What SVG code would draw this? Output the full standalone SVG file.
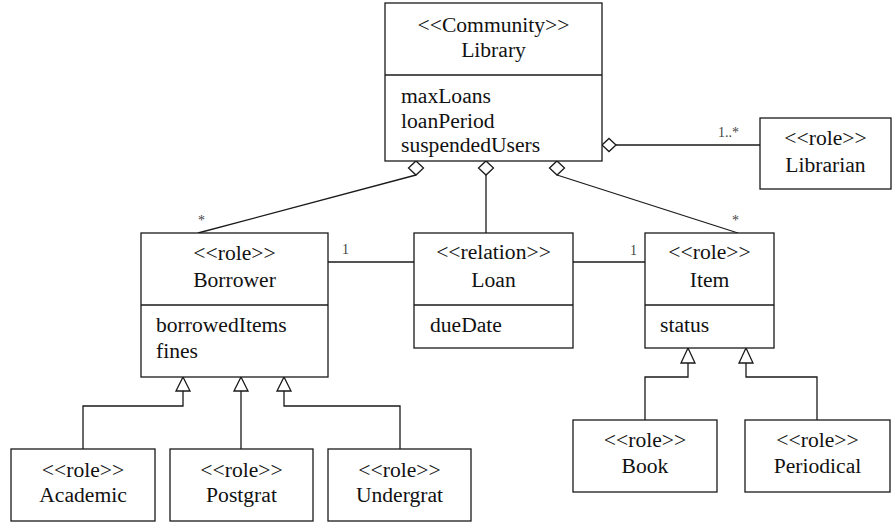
<svg xmlns="http://www.w3.org/2000/svg" width="894" height="523" viewBox="0 0 894 523">
<style>
.box{fill:#fff;stroke:#1a1a1a;stroke-width:1.3}
text{font-family:"Liberation Serif","Times New Roman",Times,Tinos,"Noto Serif","Nimbus Roman","FreeSerif","DejaVu Serif","Noto Serif CJK SC",serif}
.t{font-size:21.6px;fill:#111}
.c{text-anchor:middle}
.m{font-size:14px;fill:#444}
.ln{fill:none;stroke:#1a1a1a;stroke-width:1.3}
.dia{fill:#fff;stroke:#1a1a1a;stroke-width:1.3}
</style>
<rect width="894" height="523" fill="#fff"/>
<g id="connectors">
  <line class="ln" x1="416" y1="175" x2="198" y2="233"/>
  <line class="ln" x1="486" y1="175" x2="486" y2="233"/>
  <line class="ln" x1="557" y1="175" x2="738" y2="233"/>
  <line class="ln" x1="616" y1="145" x2="760" y2="145"/>
  <polygon class="dia" points="416,161 423.5,168 416,175 408.5,168"/>
  <polygon class="dia" points="486,161 493.5,168 486,175 478.5,168"/>
  <polygon class="dia" points="557,161 564.5,168 557,175 549.5,168"/>
  <polygon class="dia" points="602,145 609,138.5 616,145 609,151.5"/>
  <text class="m" x="718" y="137">1..*</text>
  <text class="m" x="198" y="225">*</text>
  <text class="m" x="732" y="225">*</text>
  <line class="ln" x1="328" y1="262" x2="414" y2="262"/>
  <line class="ln" x1="573" y1="262" x2="645" y2="262"/>
  <text class="m" x="342" y="254">1</text>
  <text class="m" x="630" y="255">1</text>
  <polyline class="ln" points="183,391 183,406 83,406 83,449"/>
  <line class="ln" x1="241" y1="391" x2="241" y2="449"/>
  <polyline class="ln" points="284,391 284,406 400,406 400,449"/>
  <polygon class="dia" points="183,377 190,391 176,391"/>
  <polygon class="dia" points="241,377 248,391 234,391"/>
  <polygon class="dia" points="284,377 291,391 277,391"/>
  <polyline class="ln" points="688,363 688,377 645,377 645,420"/>
  <polyline class="ln" points="746,363 746,377 817,377 817,420"/>
  <polygon class="dia" points="688,348 695,363 681,363"/>
  <polygon class="dia" points="746,348 753,363 739,363"/>
</g>
<g id="library">
  <rect class="box" x="385" y="3" width="217" height="158"/>
  <line class="ln" x1="385" y1="75" x2="602" y2="75"/>
  <text class="t c" x="493.5" y="32">&lt;&lt;Community&gt;&gt;</text>
  <text class="t c" x="493.5" y="57">Library</text>
  <text class="t" x="401" y="103">maxLoans</text>
  <text class="t" x="401" y="128">loanPeriod</text>
  <text class="t" x="401" y="152">suspendedUsers</text>
</g>
<g id="librarian">
  <rect class="box" x="760" y="118" width="131" height="71"/>
  <text class="t c" x="825.5" y="145">&lt;&lt;role&gt;&gt;</text>
  <text class="t c" x="825.5" y="172">Librarian</text>
</g>
<g id="borrower">
  <rect class="box" x="141" y="233" width="187" height="144"/>
  <line class="ln" x1="141" y1="305" x2="328" y2="305"/>
  <text class="t c" x="234.5" y="260">&lt;&lt;role&gt;&gt;</text>
  <text class="t c" x="234.5" y="287">Borrower</text>
  <text class="t" x="156" y="332">borrowedItems</text>
  <text class="t" x="156" y="358">fines</text>
</g>
<g id="loan">
  <rect class="box" x="414" y="233" width="159" height="115"/>
  <line class="ln" x1="414" y1="305" x2="573" y2="305"/>
  <text class="t c" x="493.5" y="259">&lt;&lt;relation&gt;&gt;</text>
  <text class="t c" x="493.5" y="287">Loan</text>
  <text class="t" x="430" y="332">dueDate</text>
</g>
<g id="item">
  <rect class="box" x="645" y="233" width="129" height="115"/>
  <line class="ln" x1="645" y1="305" x2="774" y2="305"/>
  <text class="t c" x="709.5" y="259">&lt;&lt;role&gt;&gt;</text>
  <text class="t c" x="709.5" y="287">Item</text>
  <text class="t" x="660" y="332">status</text>
</g>
<g id="academic">
  <rect class="box" x="11" y="449" width="144" height="72"/>
  <text class="t c" x="83" y="477">&lt;&lt;role&gt;&gt;</text>
  <text class="t c" x="83" y="502">Academic</text>
</g>
<g id="postgrat">
  <rect class="box" x="170" y="449" width="143" height="72"/>
  <text class="t c" x="241.5" y="477">&lt;&lt;role&gt;&gt;</text>
  <text class="t c" x="241.5" y="502">Postgrat</text>
</g>
<g id="undergrat">
  <rect class="box" x="328" y="449" width="143" height="72"/>
  <text class="t c" x="399.5" y="477">&lt;&lt;role&gt;&gt;</text>
  <text class="t c" x="399.5" y="502">Undergrat</text>
</g>
<g id="book">
  <rect class="box" x="573" y="420" width="144" height="72"/>
  <text class="t c" x="645" y="447">&lt;&lt;role&gt;&gt;</text>
  <text class="t c" x="645" y="473">Book</text>
</g>
<g id="periodical">
  <rect class="box" x="745" y="420" width="145" height="72"/>
  <text class="t c" x="817.5" y="447">&lt;&lt;role&gt;&gt;</text>
  <text class="t c" x="817.5" y="473">Periodical</text>
</g>
</svg>
